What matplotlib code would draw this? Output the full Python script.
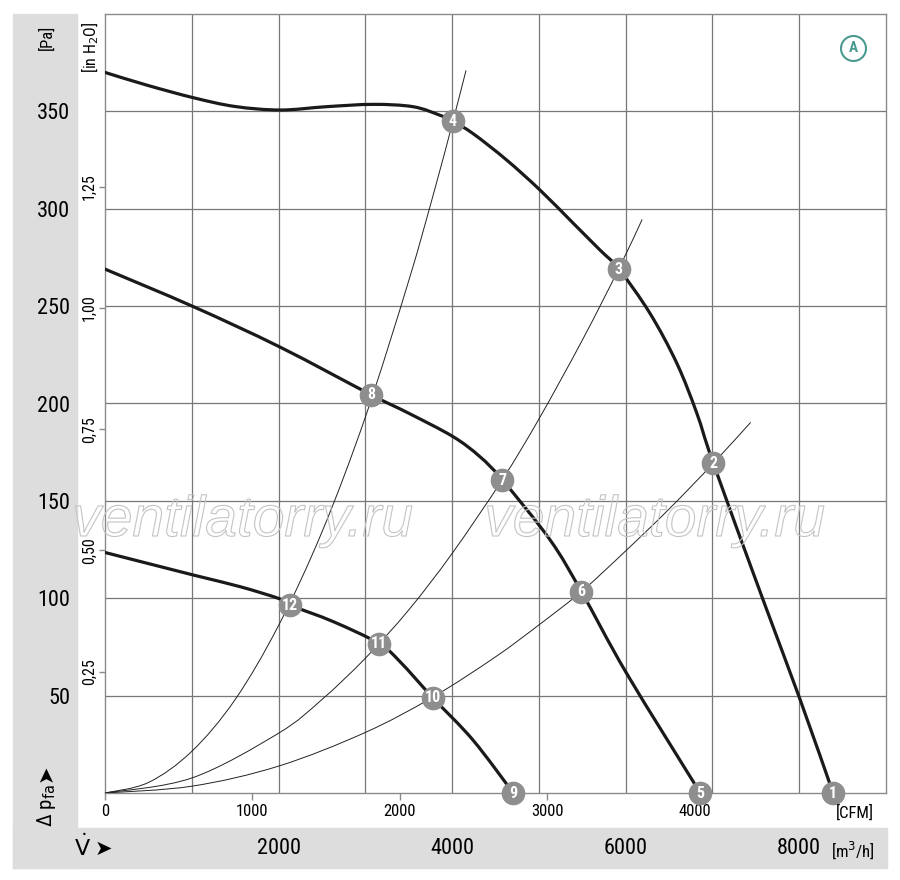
import matplotlib
matplotlib.use("Agg")
import matplotlib.pyplot as plt
import matplotlib.patheffects as pe
from matplotlib import font_manager
from matplotlib.patches import Rectangle, PathPatch
from matplotlib.path import Path

# pick a narrow sans if one is there, otherwise Liberation Sans
installed = {f.name for f in font_manager.fontManager.ttflist}
main_font = "Liberation Sans"
for cand in ["Liberation Sans Narrow", "Roboto Condensed", "Open Sans Condensed"]:
    if cand in installed:
        main_font = cand
        break
plt.rcParams['font.family'] = [main_font, 'DejaVu Sans']

# fan curves, flow in m3/h, pressure in Pa
curve_high_flow = [0, 480, 1020, 1500, 2020, 2550, 3090, 3550, 3860, 4005, 4244, 4629, 5013, 5397, 5704, 5923,
                   6280, 6590, 6820, 7010, 7580, 8010, 8390]
curve_high_pa = [370, 363.5, 357, 352.5, 350.7, 352.4, 353.6, 352.4, 348, 345, 338.5, 325, 309.6, 292.5, 278.8, 269,
                 246.3, 220.6, 195, 169.3, 99.6, 48, 0]

curve_mid_flow = [0, 1020, 2020, 3070, 3500, 4010, 4320, 4580, 5130, 5490, 6010, 6860]
curve_mid_pa = [269, 249.7, 228.9, 204.4, 195, 183, 172.7, 160.7, 129.9, 103.4, 61.5, 0]

curve_low_flow = [0, 1020, 1560, 2020, 2130, 2630, 3160, 3400, 3780, 4240, 4705]
curve_low_pa = [123.5, 111.9, 105.9, 99.6, 96.5, 88, 76.7, 67.4, 48.8, 27.2, 0]

# system resistance curves
sys_a_flow = [0, 500, 1000, 1500, 2000, 2500, 3000, 3500, 3800, 4010, 4160]
sys_a_pa = [0, 5.4, 21.4, 48, 86, 134, 193, 263, 310, 345, 371]
sys_b_flow = [0, 1000, 2000, 2500, 3000, 3500, 4000, 4580, 5000, 5500, 5920, 6190]
sys_b_pa = [0, 7.7, 30.7, 48, 69.2, 94, 123, 161, 192, 232.5, 269.1, 294.5]
sys_c_flow = [0, 1000, 2000, 3000, 3780, 4500, 5000, 5490, 6000, 6500, 7010, 7440]
sys_c_pa = [0, 3.5, 13.8, 31.1, 49.3, 69.9, 86.3, 103.4, 124.3, 145.8, 169.3, 190.3]

# operating points 1..12
point_labels = ["1", "2", "3", "4", "5", "6", "7", "8", "9", "10", "11", "12"]
point_flow = [8390, 7010, 5923, 4005, 6860, 5490, 4580, 3070, 4705, 3780, 3160, 2130]
point_pa = [0, 169.3, 269, 345, 0, 103.4, 160.7, 204.4, 0, 48.8, 76.7, 96.5]

grid_flow = [1000, 2000, 3000, 4000, 5000, 6000, 7000, 8000]
grid_pa = [50, 100, 150, 200, 250, 300, 350]
flow_labels = [2000, 4000, 6000, 8000]
cfm_ticks = [0, 1000, 2000, 3000, 4000]
inh2o_ticks = [0.25, 0.5, 0.75, 1.0, 1.25]
inh2o_labels = ["0,25", "0,50", "0,75", "1,00", "1,25"]

W, H = 900, 880
BAND = "#dddddd"
GRID = "#777777"


def fx(x):
    return x / W


def fy(y):
    return 1 - y / H


def smooth(xs, ys):
    # cubic bezier through the read points (catmull-rom control points)
    pts = list(zip(xs, ys))
    verts = [pts[0]]
    codes = [Path.MOVETO]
    for i in range(len(pts) - 1):
        p0 = pts[i - 1] if i > 0 else pts[i]
        p1, p2 = pts[i], pts[i + 1]
        p3 = pts[i + 2] if i + 2 < len(pts) else pts[i + 1]
        c1 = (p1[0] + (p2[0] - p0[0]) / 6, p1[1] + (p2[1] - p0[1]) / 6)
        c2 = (p2[0] - (p3[0] - p1[0]) / 6, p2[1] - (p3[1] - p1[1]) / 6)
        verts += [c1, c2, p2]
        codes += [Path.CURVE4] * 3
    return Path(verts, codes)


fig = plt.figure(figsize=(9, 8.8), dpi=100)
# grey bands behind the outer labels
fig.patches.append(Rectangle((fx(13), fy(868)), fx(64), (868 - 14) / H, transform=fig.transFigure,
                             color=BAND, zorder=-10))
fig.patches.append(Rectangle((fx(13), fy(868)), fx(874), 40 / H, transform=fig.transFigure,
                             color=BAND, zorder=-10))

ax = fig.add_axes([fx(105), fy(793), fx(781), 779 / H])
ax.set_xlim(0, 9000)
ax.set_ylim(0, 400)

ax.set_xticks(grid_flow)
ax.set_yticks(grid_pa)
ax.grid(True, color=GRID, linewidth=0.9)
ax.tick_params(axis="x", length=0, labelbottom=False)
ax.tick_params(axis="y", length=0, labelsize=16, pad=25)
ax.set_yticklabels([str(v) for v in grid_pa])
for s in ax.spines.values():
    s.set_color("#8a8a8a")
    s.set_linewidth(1)

# watermark
for cx in (243, 655):
    fig.text(fx(cx), fy(521), "ventilatorry.ru", fontsize=41, style="italic", color="none",
             family="Liberation Sans", ha="center", va="center", zorder=1,
             path_effects=[pe.withStroke(linewidth=0.8, foreground="#c4c4c4")])

# system curves
for xs, ys in ((sys_a_flow, sys_a_pa), (sys_b_flow, sys_b_pa), (sys_c_flow, sys_c_pa)):
    ax.add_patch(PathPatch(smooth(xs, ys), fill=False, edgecolor="#222222", linewidth=0.7, zorder=3))

# fan curves
for xs, ys in ((curve_high_flow, curve_high_pa), (curve_mid_flow, curve_mid_pa), (curve_low_flow, curve_low_pa)):
    ax.add_patch(PathPatch(smooth(xs, ys), fill=False, edgecolor="#1a1a1a", linewidth=2.3, zorder=4,
                           capstyle="round"))

ax.scatter(point_flow, point_pa, s=290, color="#8e8e8e", zorder=5, clip_on=False, linewidths=0)
for lab, x, y in zip(point_labels, point_flow, point_pa):
    ax.text(x, y, lab, color="white", fontsize=11.5, fontweight="bold", ha="center", va="center",
            zorder=6, clip_on=False)

# marker A
ax.plot([8620], [382.5], marker="o", ms=18, mfc="white", mec="#4a9a90", mew=1.5, zorder=6)
ax.text(8620, 382.5, "A", color="#4a9a90", fontsize=11, fontweight="bold", ha="center", va="center", zorder=7)

# CFM axis
cfm = ax.secondary_xaxis("bottom", functions=(lambda v: v / 1.699, lambda c: c * 1.699))
cfm.set_xticks(cfm_ticks)
cfm.tick_params(length=5, width=1, color="#8a8a8a", labelsize=12, pad=3)
cfm.spines["bottom"].set_visible(False)

# inch water axis
inw = ax.secondary_yaxis("left", functions=(lambda p: p / 249.09, lambda i: i * 249.09))
inw.set_yticks(inh2o_ticks)
inw.set_yticklabels(inh2o_labels, rotation=90, va="center")
inw.tick_params(length=4, width=1, color="#8a8a8a", labelsize=11.5, pad=2)
inw.spines["left"].set_visible(False)

fig.text(fx(855), fy(813), "[CFM]", fontsize=12, ha="center", va="center")
fig.text(fx(47), fy(37), "[Pa]", fontsize=12, rotation=90, ha="center", va="center")
fig.text(fx(90), fy(47), "[in H$_2$O]", fontsize=11.5, rotation=90, ha="center", va="center")

# axis names with arrow heads
fig.text(fx(46), fy(806), "Δ p$_{\\mathrm{fa}}$", fontsize=15, rotation=90, ha="center", va="center")
fig.text(fx(46), fy(773), "➤", family="DejaVu Sans", fontsize=15, rotation=90, ha="center", va="center")
fig.text(fx(83), fy(848), "$\\dot{\\mathrm{V}}$", fontsize=16, ha="center", va="center")
fig.text(fx(103), fy(849), "➤", family="DejaVu Sans", fontsize=15, ha="center", va="center")

for v in flow_labels:
    fig.text(fx(105 + v * 781 / 9000), fy(848), str(v), fontsize=16, ha="center", va="center")
fig.text(fx(853), fy(850), "[m$^3$/h]", fontsize=12, ha="center", va="center")

fig.savefig("out.png", dpi=100)
